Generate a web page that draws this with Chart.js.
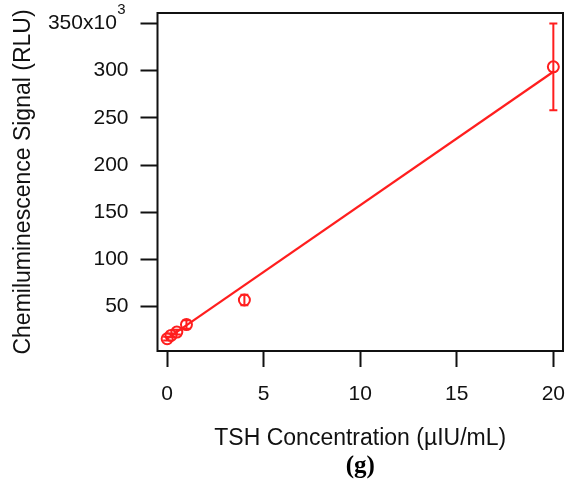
<!DOCTYPE html>
<html><head><meta charset="utf-8">
<script src="https://cdn.jsdelivr.net/npm/chart.js@4"></script>
<style>html,body{margin:0;padding:0;background:#fff}#wrap{width:574px;height:484px}</style>
</head><body><div id="wrap"><canvas id="c" width="574" height="484"></canvas></div>
<script>
// Data (signal in RLU x10^3)
const concentrations = [0, 0.2, 0.5, 1, 4, 20];
const signals = [16, 19.5, 23, 31, 57, 304];
const signalErrors = [2, 2, 2.5, 4.5, 5.5, 46];
const fitX = [0, 20];
const fitY = [16.2, 298.8];
const xTicks = [0, 5, 10, 15, 20];
const yTicks = [50, 100, 150, 200, 250, 300, 350];
const xTitle = 'TSH Concentration (µIU/mL)';
const yTitle = 'Chemiluminescence Signal (RLU)';
const caption = '(g)';
const topTickBase = '350x10';
const topTickExp = '3';

const RED = 'rgb(255,30,30)';
const TXT = '#111';
const SANS = '"Liberation Sans", Arial, sans-serif';
const TICK_FONT = 21;
const PAD_SPACE = '\u2007';

const errorBars = {
  id: 'errorBars',
  afterDatasetsDraw(chart) {
    const {ctx, scales: {x, y}} = chart;
    ctx.save();
    ctx.strokeStyle = RED;
    ctx.lineWidth = 2;
    concentrations.forEach((c, i) => {
      const px = x.getPixelForValue(c);
      const top = y.getPixelForValue(signals[i] + signalErrors[i]);
      const bot = y.getPixelForValue(signals[i] - signalErrors[i]);
      ctx.beginPath();
      ctx.moveTo(px, top); ctx.lineTo(px, bot);
      ctx.moveTo(px - 4, top); ctx.lineTo(px + 4, top);
      ctx.moveTo(px - 4, bot); ctx.lineTo(px + 4, bot);
      ctx.stroke();
    });
    ctx.restore();
  }
};

const frameAndExp = {
  id: 'frameAndExp',
  afterDraw(chart) {
    const {ctx, chartArea: a, scales: {y}} = chart;
    ctx.save();
    ctx.strokeStyle = TXT;
    ctx.lineWidth = 2;
    ctx.strokeRect(a.left, a.top, a.right - a.left, a.bottom - a.top);
    // superscript exponent after the top tick label
    ctx.font = TICK_FONT + 'px ' + SANS;
    const full = ctx.measureText(topTickBase + PAD_SPACE).width;
    const base = ctx.measureText(topTickBase).width;
    const right = a.left - y.options.grid.tickLength - y.options.ticks.padding;
    const ty = y.getPixelForValue(yTicks[yTicks.length - 1]);
    ctx.font = '15px ' + SANS;
    ctx.fillStyle = TXT;
    ctx.textAlign = 'left';
    ctx.textBaseline = 'middle';
    ctx.fillText(topTickExp, right - full + base + 0.5, ty - 14);
    ctx.restore();
  }
};

new Chart(document.getElementById('c'), {
  type: 'scatter',
  data: {
    datasets: [
      {
        type: 'line',
        data: fitX.map((v, i) => ({x: v, y: fitY[i]})),
        borderColor: RED,
        borderWidth: 2.2,
        pointRadius: 0,
        tension: 0,
        fill: false
      },
      {
        data: concentrations.map((v, i) => ({x: v, y: signals[i]})),
        pointStyle: 'circle',
        pointRadius: 5.5,
        borderWidth: 2,
        borderColor: RED,
        backgroundColor: 'rgba(0,0,0,0)'
      }
    ]
  },
  options: {
    responsive: false,
    devicePixelRatio: 1,
    animation: false,
    layout: {padding: {left: 0, right: 11, top: 13, bottom: 0}},
    plugins: {
      legend: {display: false},
      tooltip: {enabled: false},
      title: {
        display: true,
        position: 'bottom',
        fullSize: false,
        text: caption,
        color: '#000',
        font: {family: '"Liberation Serif", "Times New Roman", serif', size: 25, weight: 'bold'},
        padding: {top: 0, bottom: 2}
      }
    },
    scales: {
      x: {
        type: 'linear',
        min: -0.5,
        max: 20.5,
        afterBuildTicks: s => { s.ticks = xTicks.map(v => ({value: v})); },
        afterFit: s => { s.height = 101; s.paddingLeft = 0; s.paddingRight = 0; },
        ticks: {font: {family: SANS, size: TICK_FONT}, color: TXT, padding: 15, autoSkip: false, maxRotation: 0},
        grid: {display: true, drawOnChartArea: false, drawTicks: true, tickLength: 16, tickWidth: 2, tickColor: TXT},
        border: {display: false},
        title: {display: true, text: xTitle, color: TXT, font: {family: SANS, size: 23}, padding: {top: 0, bottom: 0}}
      },
      y: {
        type: 'linear',
        min: 3,
        max: 361,
        afterBuildTicks: s => { s.ticks = yTicks.map(v => ({value: v})); },
        afterFit: s => { s.width = 157.5; s.paddingTop = 0; s.paddingBottom = 0; },
        ticks: {
          font: {family: SANS, size: TICK_FONT}, color: TXT, padding: 12,
          callback: v => v === yTicks[yTicks.length - 1] ? topTickBase + PAD_SPACE : String(v)
        },
        grid: {display: true, drawOnChartArea: false, drawTicks: true, tickLength: 17, tickWidth: 2, tickColor: TXT},
        border: {display: false},
        title: {display: true, text: yTitle, color: TXT, font: {family: SANS, size: 23}, padding: {top: 10, bottom: 0}}
      }
    }
  },
  plugins: [errorBars, frameAndExp]
});
</script>
</body></html>
